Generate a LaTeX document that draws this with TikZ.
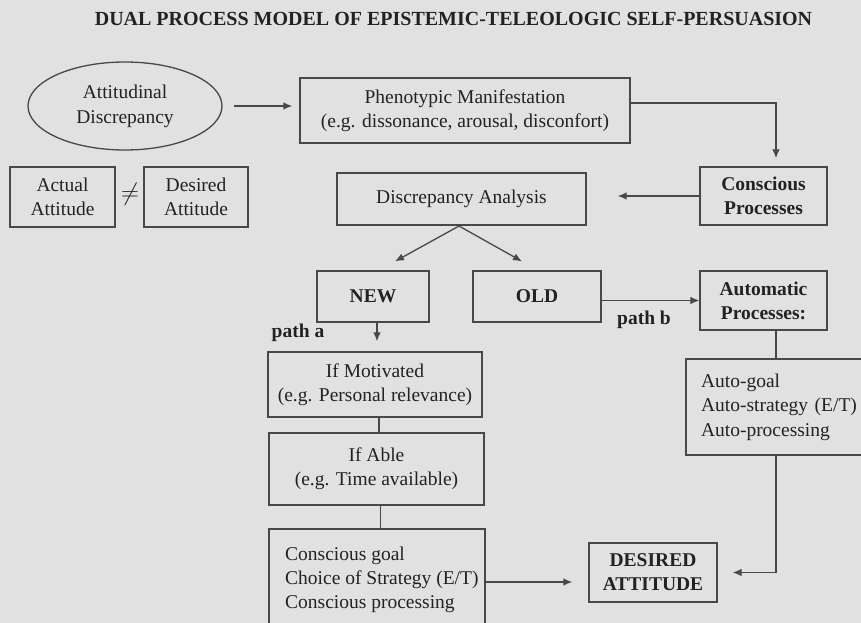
\documentclass[tikz,border=0pt]{standalone}
\usepackage{fontspec}
\setmainfont{Liberation Serif}
\usetikzlibrary{shapes.geometric,arrows.meta,calc}
\definecolor{paper}{HTML}{E1E1E1}
\definecolor{ink}{HTML}{222222}
\definecolor{rule}{HTML}{484848}
\begin{document}
\begin{tikzpicture}[x=1pt,y=-1pt,
  every node/.style={text=ink, font=\fontsize{19.5}{24}\selectfont},
  box/.style={draw=rule, line width=1.3pt, rectangle, inner sep=0pt, align=center},
  bf/.style={font=\fontsize{19.5}{24}\selectfont\bfseries},
  wire/.style={draw=rule, line width=1.3pt},
  arr/.style={wire, -{Latex[length=9pt,width=7.5pt]}},
]
\clip (0,0) rectangle (861,623);
\fill[paper] (0,0) rectangle (861,623);

% title
\node[font=\fontsize{20}{24}\selectfont\bfseries] (title) at (453.5,18.5)
  {DUAL PROCESS MODEL OF EPISTEMIC-TELEOLOGIC SELF-PERSUASION};

% top row
\node[draw=rule, line width=1.3pt, ellipse, minimum width=194, minimum height=88,
  inner sep=0pt, align=center, font=\fontsize{19.5}{25}\selectfont] (att) at (125,106)
  {Attitudinal\\Discrepancy};
\node[box, minimum width=330, minimum height=65] (pheno) at (465,110.5)
  {Phenotypic Manifestation\\(e.g. dissonance, arousal, disconfort)};

% attitude comparison
\node[box, minimum width=105, minimum height=60] (actual) at (62.5,197) {Actual\\Attitude};
\node[font=\fontsize{24}{24}\selectfont] (neq) at (130,194) {$\neq$};
\node[box, minimum width=104, minimum height=60] (desired) at (196,197) {Desired\\Attitude};

% analysis
\node[box, minimum width=249, minimum height=52] (disc) at (461.5,199) {Discrepancy Analysis};
\node[box, bf, minimum width=127, minimum height=58] (cons) at (763.5,196) {Conscious\\Processes};
\node[box, bf, minimum width=112, minimum height=51] (new) at (373,296.5) {NEW};
\node[box, bf, minimum width=128, minimum height=51] (old) at (537,296.5) {OLD};
\node[box, bf, minimum width=127, minimum height=59] (auto) at (763.5,300.5) {Automatic\\Processes:};
\node[bf] (pathb) at (644,320) {path b};
\node[bf] (patha) at (298,333) {path a};

% path a
\node[box, minimum width=214, minimum height=65] (motiv) at (375,384.5)
  {If Motivated\\(e.g. Personal relevance)};
\node[box, minimum width=215, minimum height=72] (able) at (376.5,469)
  {If Able\\(e.g. Time available)};
\node[box, minimum width=216, minimum height=130] (cgoal) at (377,594) {};
\node[anchor=west, align=left, inner sep=0pt] (cgtext) at (285,580)
  {Conscious goal\\Choice of Strategy (E/T)\\Conscious processing};

% path b
\node[box, minimum width=200, minimum height=96, text width=170, inner xsep=15pt,
  align=left, font=\fontsize{19.5}{24.5}\selectfont] (autobox) at (786,407)
  {Auto-goal\\Auto-strategy (E/T)\\Auto-processing};

% outcome
\node[box, bf, minimum width=128, minimum height=59] (goal) at (653,572.5) {DESIRED\\ATTITUDE};

% connectors
\coordinate (col) at (776,0);
\coordinate (fork) at (459,226);
\coordinate (ingoal) at ([yshift=-9.5pt]goal.west);

\draw[arr, shorten <=11pt, shorten >=7pt] (att.east) -- (att.east -| pheno.west);
\draw[arr, shorten >=8pt] ([yshift=7.5pt]pheno.east) -| (col |- cons.north);
\draw[arr, shorten >=31pt] (cons.west) -- (cons.west -| disc.east);
\draw[arr] (fork) -- ([xshift=22pt,yshift=9pt]new.north);
\draw[arr] (fork) -- ([xshift=-15pt,yshift=9pt]old.north);
\draw[arr] ([yshift=-4pt]old.east) -- ([yshift=-4pt]old.east -| auto.west);
\draw[arr, shorten >=10pt] ([xshift=4pt]new.south) -- ([xshift=4pt]new.south |- motiv.north);
\draw[wire] ([xshift=4pt]motiv.south) -- ([xshift=4pt]motiv.south |- able.north);
\draw[wire] ([xshift=4pt]able.south) -- ([xshift=4pt]able.south |- cgoal.north);
\draw[arr, shorten >=16pt] (cgoal.east |- ingoal) -- (ingoal);
\draw[wire] (col |- auto.south) -- (col |- autobox.north);
\draw[arr, shorten >=15pt] (col |- autobox.south) |- (goal.east);
\end{tikzpicture}
\end{document}
